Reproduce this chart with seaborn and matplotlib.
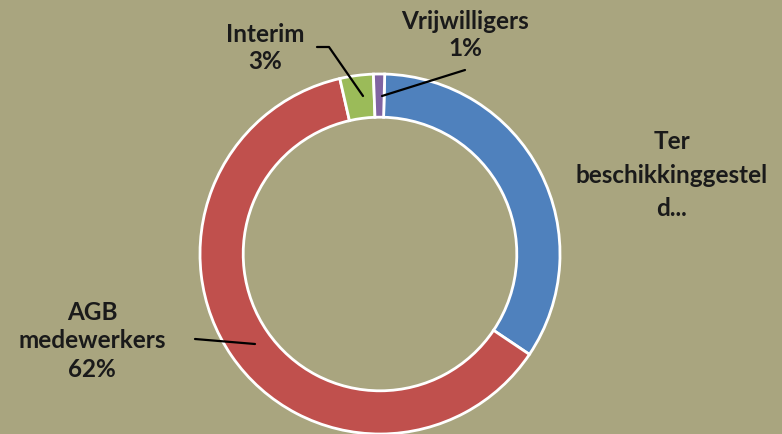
import matplotlib
matplotlib.use("Agg")
import matplotlib.pyplot as plt
import seaborn as sns

# donut data
categories = ["Ter beschikkinggesteld", "AGB medewerkers", "Interim", "Vrijwilligers"]
shares = [34, 62, 3, 1]
colors = ["#4F81BD", "#C0504D", "#9BBB59", "#8064A2"]
label_texts = ["Ter\nbeschikkinggestel\nd...", "AGB\nmedewerkers\n62%", "Interim\n3%", "Vrijwilligers\n1%"]

bg = "#A9A57F"

sns.set_theme(style="white")
plt.rcParams['font.family'] = ['Lato', 'DejaVu Sans']

fig = plt.figure(figsize=(7.82, 4.35), dpi=100)
fig.patch.set_facecolor(bg)
ax = fig.add_axes([0, 0, 1, 1])
ax.set_facecolor(bg)

ax.pie(shares, colors=colors, startangle=88.5, counterclock=False,
       radius=1.0, wedgeprops=dict(width=0.24, edgecolor="white", linewidth=2))

# map pixels to data units: radius 1 = 180 px, center at (380, 255) from top-left
def px(x, y):
    return ((x - 380) / 180, (255 - y) / 180)

ax.set_xlim(-380 / 180, (782 - 380) / 180)
ax.set_ylim(-180 / 180, (435 - 180) / 180)
ax.set_aspect("auto")
ax.axis("off")

fs = 17.5
pos = [(672, 175), (92, 341), (265, 48), (465, 35)]
spacing = [1.55, 1.3, 1.2, 1.2]
for txt, (x, y), ls in zip(label_texts, pos, spacing):
    ax.text(*px(x, y), txt, ha="center", va="center", fontsize=fs,
            fontweight="bold", color="#1a1a1a", linespacing=ls)

# leader lines
leaders = [
    [(195, 340), (255, 345)],
    [(317, 48), (329, 48), (363, 97)],
    [(465, 71), (382, 97)],
]
for pts in leaders:
    xs, ys = zip(*[px(a, b) for a, b in pts])
    ax.plot(xs, ys, color="black", lw=1.6, solid_capstyle="round")

fig.savefig("out.png", dpi=100, facecolor=bg)
